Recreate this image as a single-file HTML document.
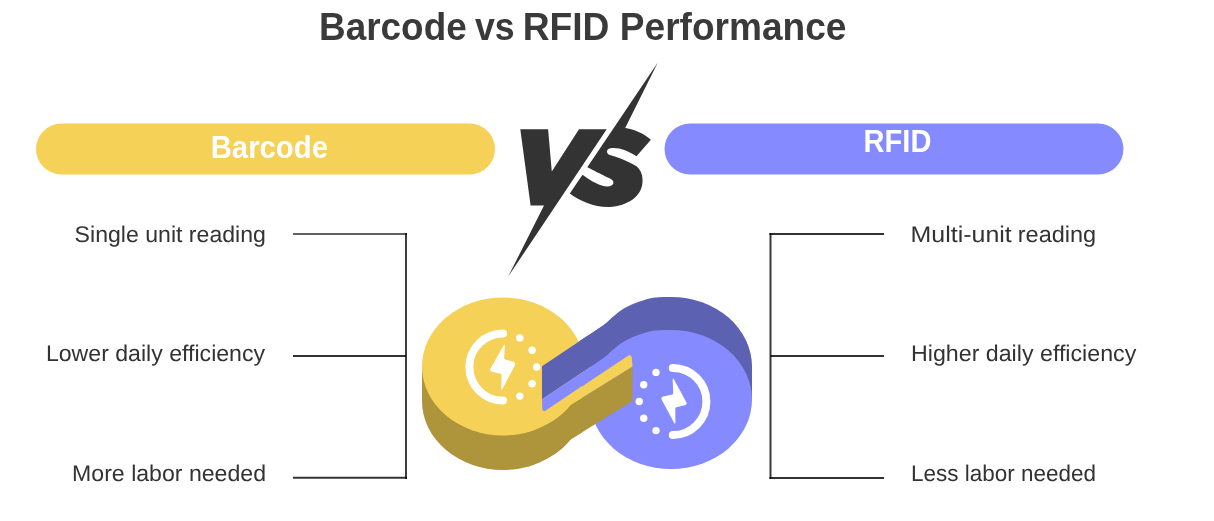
<!DOCTYPE html>
<html><head><meta charset="utf-8">
<style>
html,body{margin:0;padding:0;background:#fff;width:1214px;height:521px;overflow:hidden}
svg{display:block;will-change:transform}
text{font-family:"Liberation Sans",sans-serif}
</style></head>
<body>
<svg width="1214" height="521" viewBox="0 0 1214 521">
<!-- title -->
<g font-size="38.5" font-weight="bold" fill="#3a3a3a">
<text x="319.1" y="40" textLength="147.6" lengthAdjust="spacingAndGlyphs">Barcode</text>
<text x="475" y="40" textLength="39.7" lengthAdjust="spacingAndGlyphs">vs</text>
<text x="522.7" y="40" textLength="86.8" lengthAdjust="spacingAndGlyphs">RFID</text>
<text x="619.8" y="40" textLength="226.7" lengthAdjust="spacingAndGlyphs">Performance</text>
</g>
<!-- pills -->
<rect x="36" y="123.5" width="459" height="51" rx="25.5" fill="#F5D157"/>
<rect x="664.5" y="123.5" width="459" height="51" rx="25.5" fill="#858BFE"/>
<text x="210.7" y="158" font-size="31" font-weight="bold" fill="#fff" textLength="117.3" lengthAdjust="spacingAndGlyphs">Barcode</text>
<text x="863.6" y="152" font-size="31.5" font-weight="bold" fill="#fff" textLength="67.8" lengthAdjust="spacingAndGlyphs">RFID</text>
<!-- left list -->
<g font-size="22.7" fill="#333" style="text-rendering:geometricPrecision">
<text x="74.6" y="242.2" textLength="191.3" lengthAdjust="spacingAndGlyphs">Single unit reading</text>
<text x="45.9" y="361.2" textLength="219.2" lengthAdjust="spacingAndGlyphs">Lower daily efficiency</text>
<text x="72.1" y="481.3" textLength="193.9" lengthAdjust="spacingAndGlyphs">More labor needed</text>
<text x="910.6" y="242" textLength="101.2" lengthAdjust="spacingAndGlyphs">Multi-unit</text><text x="1017.8" y="242" textLength="78.4" lengthAdjust="spacingAndGlyphs">reading</text>
<text x="911" y="361" textLength="225.3" lengthAdjust="spacingAndGlyphs">Higher daily efficiency</text>
<text x="911" y="481.3" textLength="184.9" lengthAdjust="spacingAndGlyphs">Less labor needed</text>
</g>
<!-- bracket lines -->
<g stroke-width="2" fill="none">
<path stroke="#000" stroke-opacity="0.62" d="M293 234 H407"/>
<path stroke="#000" stroke-opacity="0.76" d="M406 233 V479"/>
<path stroke="#000" stroke-opacity="0.8" d="M293 356 H406"/>
<path stroke="#000" stroke-opacity="0.8" d="M293 477.8 H407"/>
<path stroke="#000" stroke-opacity="0.8" d="M884 234 H769.5"/>
<path stroke="#000" stroke-opacity="0.78" d="M770.5 233 V479"/>
<path stroke="#000" stroke-opacity="0.8" d="M884 356 H770.5"/>
<path stroke="#000" stroke-opacity="0.8" d="M884 478 H769.5"/>
</g>
<!-- VS -->
<g fill="#333">
<path d="M520.3 129.3 L548.1 129.3 L551.8 171.5 L579 129.3 L606.7 129.3 L508.2 276.6 L544 205.4 L530.6 205.4 Z"/>
<path d="M657.8 62.4 L625.2 127.9 C632 128.8 644 133 650.9 139.7 L636.5 156.3 C628 150.5 618 147 610.5 148.2 C605.8 149 605.8 154.2 610.6 155.2 C620 158 630 162 636.5 166.3 C641 170 643 176 642.5 182 C642 196 628 206 609.3 207 C595 207.5 580 201 569.8 193.5 L582.5 174.8 C592 181.5 600 186.5 607.5 186.5 C614 186.5 616 181 609.5 178.3 C600 174 593 170 587.3 167.3 Z"/>
</g>
<!-- 3D infinity -->
<g>
 <!-- purple dark sweep -->
 <g fill="#5C61B1">
  <ellipse cx="671" cy="366.5" rx="81" ry="69.5"/>
  <rect x="590" y="366.5" width="162" height="33"/>
  <path d="M542 399.3 L620 347.2 L620 314.2 L542 366.3 Z"/>
  <path transform="translate(0 -33)" d="M580.0 373.9 C582.5 372.2 590.9 366.7 595.0 363.9 C599.1 361.1 601.4 359.8 604.6 357.3 C607.8 354.8 611.0 351.4 614.2 348.8 C617.4 346.1 620.6 343.6 623.8 341.6 C627.0 339.6 630.2 338.2 633.4 336.8 C636.6 335.4 639.4 334.4 643.0 333.4 C646.6 332.4 650.2 331.2 655.0 330.6 C659.8 330.0 669.2 330.1 672.0 330.0 L672 400 L580 400 Z"/>
 </g>
 <!-- purple light face -->
 <g fill="#858BFE">
  <ellipse cx="671" cy="399.5" rx="81" ry="69.5"/>
  <path d="M542 399.3 L620 347.2 L620 360.1 L545 411.1 Q542.5 411.5 542.3 409 Z"/>
  <path d="M580.0 373.9 C582.5 372.2 590.9 366.7 595.0 363.9 C599.1 361.1 601.4 359.8 604.6 357.3 C607.8 354.8 611.0 351.4 614.2 348.8 C617.4 346.1 620.6 343.6 623.8 341.6 C627.0 339.6 630.2 338.2 633.4 336.8 C636.6 335.4 639.4 334.4 643.0 333.4 C646.6 332.4 650.2 331.2 655.0 330.6 C659.8 330.0 669.2 330.1 672.0 330.0 L672 400 L580 400 Z"/>
 </g>
 <!-- yellow dark sweep -->
 <g fill="#AE943A">
  <ellipse cx="503" cy="401" rx="81" ry="69"/>
  <rect x="422" y="366.5" width="162" height="34.5"/>
  <path d="M545 420.8 L632.5 366.55 L632.5 401 L545 455.3 Z"/>
  <path transform="translate(0 34.5)" d="M528.0 432.3 C530.0 431.4 536.1 428.8 540.0 427.0 C543.9 425.2 548.1 423.2 551.5 421.3 C554.9 419.4 557.7 417.4 560.1 415.5 C562.5 413.6 564.0 412.1 566.0 410.2 C568.0 408.3 569.3 406.2 572.0 404.1 L582.0 397.9 L582 385 L528 385 Z"/>
 </g>
 <!-- yellow top face -->
 <g fill="#F5D157">
  <ellipse cx="503" cy="366.5" rx="81" ry="69"/>
  <path d="M545 411.1 L628.5 355.5 Q631 354.5 631.8 357.5 L632.5 366.55 L545 420.8 Z"/>
  <path d="M528.0 432.3 C530.0 431.4 536.1 428.8 540.0 427.0 C543.9 425.2 548.1 423.2 551.5 421.3 C554.9 419.4 557.7 417.4 560.1 415.5 C562.5 413.6 564.0 412.1 566.0 410.2 C568.0 408.3 569.3 406.2 572.0 404.1 L582.0 397.9 L582 385 L528 385 Z"/>
 </g>
 <!-- purple bar on top -->
 <path fill="#5C61B1" d="M542 399.3 L588 368.6 L588 335.6 L542 366.3 Z"/>
 <path fill="#858BFE" d="M542 399.3 L588 368.6 L588 381.9 L545 411.1 Q542.5 411.5 542.3 409 Z"/>
 <!-- yellow icon -->
 <g fill="#fff">
  <path d="M503 333.4 A33.6 33.6 0 0 0 503 400.6" fill="none" stroke="#fff" stroke-width="8" stroke-linecap="round"/>
  <circle cx="519.8" cy="337.9" r="3.7"/>
  <circle cx="532.1" cy="350.2" r="3.7"/>
  <circle cx="536.6" cy="367" r="3.7"/>
  <circle cx="532.1" cy="383.8" r="3.7"/>
  <circle cx="519.8" cy="396.1" r="3.7"/>
  <path d="M503.3 346.0 L490.5 368.4 Q489.0 371.0 491.9 371.7 L500.6 373.8 Q501.6 374.0 501.6 375.0 L501.2 388.1 Q501.1 391.6 502.7 388.5 L514.9 365.2 Q516.3 362.5 513.4 361.7 L505.2 359.6 Q504.2 359.3 504.2 358.3 L504.8 346.5 Q505.0 343.0 503.3 346.0 Z"/>
 </g>
 <!-- purple icon -->
 <g fill="#fff" transform="translate(0.8 0)">
  <path d="M672 367.9 A33.6 33.6 0 0 1 672 435.1" fill="none" stroke="#fff" stroke-width="8" stroke-linecap="round"/>
  <circle cx="655.2" cy="372.4" r="3.7"/>
  <circle cx="642.9" cy="384.7" r="3.7"/>
  <circle cx="638.4" cy="401.5" r="3.7"/>
  <circle cx="642.9" cy="418.3" r="3.7"/>
  <circle cx="655.2" cy="430.6" r="3.7"/>
  <path d="M671.9 380.3 L672.4 393.2 Q672.4 394.2 671.4 394.4 L662.5 396.6 Q659.6 397.3 661.0 399.9 L673.0 422.3 Q674.6 425.4 674.6 421.9 L674.5 408.4 Q674.5 407.4 675.5 407.2 L683.9 405.3 Q686.8 404.7 685.4 402.1 L673.5 379.9 Q671.8 376.8 671.9 380.3 Z"/>
 </g>
</g>
</svg>
</body></html>
